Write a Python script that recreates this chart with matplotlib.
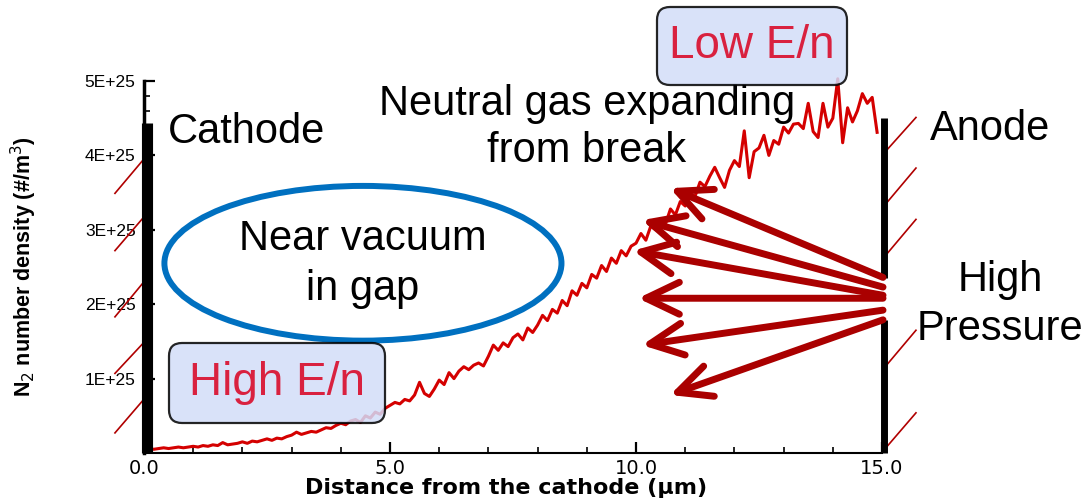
import numpy as np
import matplotlib.pyplot as plt
from matplotlib.patches import Ellipse, FancyBboxPatch
from matplotlib.ticker import MultipleLocator

plt.rcParams['font.family'] = ['Liberation Sans', 'DejaVu Sans']

# N2 density across the gap (units of 1E+25 #/m^3), sampled every 0.1 um
distance = np.arange(0.0, 15.0, 0.1)
density = [
    0.05, 0.06, 0.05, 0.06, 0.07, 0.06, 0.07, 0.08, 0.07, 0.08,
    0.09, 0.08, 0.10, 0.09, 0.11, 0.10, 0.14, 0.11, 0.12, 0.13,
    0.15, 0.13, 0.16, 0.15, 0.17, 0.19, 0.17, 0.20, 0.19, 0.22,
    0.24, 0.28, 0.25, 0.27, 0.29, 0.28, 0.31, 0.34, 0.33, 0.37,
    0.40, 0.38, 0.43, 0.45, 0.41, 0.50, 0.47, 0.55, 0.52, 0.60,
    0.64, 0.68, 0.66, 0.72, 0.70, 0.78, 0.95, 0.80, 0.76, 0.86,
    0.98, 0.92, 1.08, 1.00, 1.10, 1.16, 1.12, 1.18, 1.21, 1.17,
    1.30, 1.45, 1.38, 1.48, 1.43, 1.55, 1.60, 1.52, 1.68, 1.62,
    1.72, 1.85, 1.78, 1.93, 1.88, 2.05, 1.98, 2.18, 2.12, 2.28,
    2.22, 2.40, 2.35, 2.52, 2.44, 2.62, 2.55, 2.72, 2.65, 2.78,
    2.82, 2.95, 2.86, 3.05, 3.00, 3.15, 3.08, 3.28, 3.20, 3.38,
    3.32, 3.48, 3.45, 3.64, 3.58, 3.72, 3.84, 3.70, 3.57, 3.80,
    3.93, 3.85, 4.33, 3.70, 4.05, 4.10, 4.27, 4.00, 4.20, 4.15,
    4.38, 4.30, 4.42, 4.43, 4.36, 4.70, 4.32, 4.24, 4.70, 4.38,
    4.50, 5.03, 4.17, 4.64, 4.45, 4.60, 4.83, 4.70, 4.78, 4.31,
]
E25 = 1e25

x_ticks = [0.0, 5.0, 10.0, 15.0]
x_tick_labels = ['0.0', '5.0', '10.0', '15.0']
y_ticks = [1, 2, 3, 4, 5]
y_tick_labels = ['1E+25', '2E+25', '3E+25', '4E+25', '5E+25']

# gas jets leaving the break in the anode
jet_tail_y = [2.36, 2.23, 2.12, 2.08, 1.92, 1.79]
jet_head_x = [10.69, 10.12, 9.94, 10.04, 10.12, 10.69]
jet_head_y = [3.56, 3.13, 2.72, 2.08, 1.45, 0.78]

# hatch marks behind the electrodes
cathode_hatch_lo = [3.49, 2.72, 1.83, 1.07, 0.27]
cathode_hatch_hi = [4.00, 3.22, 2.35, 1.53, 0.77]
anode_hatch_lo = [4.03, 3.32, 2.63, 1.14, 0.04]
anode_hatch_hi = [4.51, 3.83, 3.14, 1.65, 0.54]

fig = plt.figure(figsize=(10.9, 5.0), dpi=100)
ax = fig.add_axes([0.1321, 0.094, 0.6771, 0.744])

ax.plot(distance, np.array(density) * E25, color='#d40000', lw=2.2,
        clip_on=False, zorder=3)

ax.set_xlim(0, 15)
ax.set_ylim(0, 5 * E25)
ax.set_xticks(x_ticks)
ax.set_xticklabels(x_tick_labels, fontsize=14, family='DejaVu Sans')
ax.set_yticks([v * E25 for v in y_ticks])
ax.set_yticklabels(y_tick_labels, fontsize=12.5)
ax.xaxis.set_minor_locator(MultipleLocator(1.0))
ax.yaxis.set_minor_locator(MultipleLocator(0.2 * E25))
ax.tick_params(which='major', direction='in', length=8, width=1.6,
               colors='black')
ax.tick_params(which='minor', direction='in', length=4.5, width=1.2)
ax.tick_params(axis='y', pad=6)
ax.tick_params(axis='x', pad=4)
for s in ['top', 'right']:
    ax.spines[s].set_visible(False)
ax.spines['left'].set_linewidth(2.5)
ax.spines['bottom'].set_linewidth(1.5)

ax.set_xlabel('Distance from the cathode (\u03bcm)', fontsize=16,
              fontweight='bold', family='DejaVu Sans')
ax.xaxis.set_label_coords(0.49, -0.066)
ax.set_ylabel('N$_2$ number density (#/m$^3$)', fontsize=15.5,
              fontweight='bold')
ax.yaxis.set_label_coords(-0.142, 0.5)

# electrodes
ax.plot([0.065, 0.065], [0, 4.44 * E25], color='black', lw=8,
        solid_capstyle='butt', clip_on=False, zorder=4)
ax.plot([15.05, 15.05], [2.35 * E25, 4.50 * E25], color='black', lw=5,
        solid_capstyle='butt', clip_on=False, zorder=4)
ax.plot([15.05, 15.05], [0, 1.79 * E25], color='black', lw=5,
        solid_capstyle='butt', clip_on=False, zorder=4)

for lo, hi in zip(cathode_hatch_lo, cathode_hatch_hi):
    ax.plot([-0.59, 0.06], [lo * E25, hi * E25], color='#b00000', lw=1.2,
            clip_on=False, zorder=2)
for lo, hi in zip(anode_hatch_lo, anode_hatch_hi):
    ax.plot([15.04, 15.69], [lo * E25, hi * E25], color='#b00000', lw=1.2,
            clip_on=False, zorder=2)

# jets
for ty, hx, hy in zip(jet_tail_y, jet_head_x, jet_head_y):
    ax.annotate('', xy=(hx, hy * E25), xytext=(15.02, ty * E25),
                arrowprops=dict(arrowstyle='->,head_length=2.4,head_width=1.15',
                                color='#aa0000', lw=5, capstyle='round',
                                joinstyle='round', shrinkA=0, shrinkB=0),
                annotation_clip=False, zorder=5)

# near-vacuum region
ax.add_patch(Ellipse((4.45, 2.55 * E25), 8.07, 2.08 * E25, fill=False,
                     edgecolor='#0070c0', lw=4.3, zorder=4))

big = 30
ax.text(0.49, 4.31 * E25, 'Cathode', fontsize=big, ha='left', va='center')
ax.text(4.45, 2.54 * E25, 'Near vacuum\nin gap', fontsize=big,
        ha='center', va='center', linespacing=1.3)
ax.text(9.0, 4.38 * E25, 'Neutral gas expanding\nfrom break', fontsize=big,
        ha='center', va='center', linespacing=1.22)
ax.text(17.2, 4.36 * E25, 'Anode', fontsize=big, ha='center', va='center',
        clip_on=False)
ax.text(17.4, 2.0 * E25, 'High\nPressure', fontsize=big, ha='center',
        va='center', linespacing=1.28, clip_on=False)

# E/n callouts, positioned in figure inches
box_face = '#d3ddf9'
for (x0, y0, w, h, label) in [(1.69, 0.77, 2.16, 0.80, 'High E/n'),
                              (6.57, 4.15, 1.90, 0.78, 'Low E/n')]:
    fig.patches.append(FancyBboxPatch(
        (x0, y0), w, h, boxstyle='round,pad=0,rounding_size=0.13',
        transform=fig.dpi_scale_trans, facecolor=box_face, edgecolor='black',
        lw=1.6, alpha=0.85, zorder=6, figure=fig))
    fig.text((x0 + w / 2) / 10.9, (y0 + h / 2) / 5.0, label, fontsize=33,
             color='#d9213f', ha='center', va='center', zorder=7)

fig.savefig('out.png', dpi=100)
